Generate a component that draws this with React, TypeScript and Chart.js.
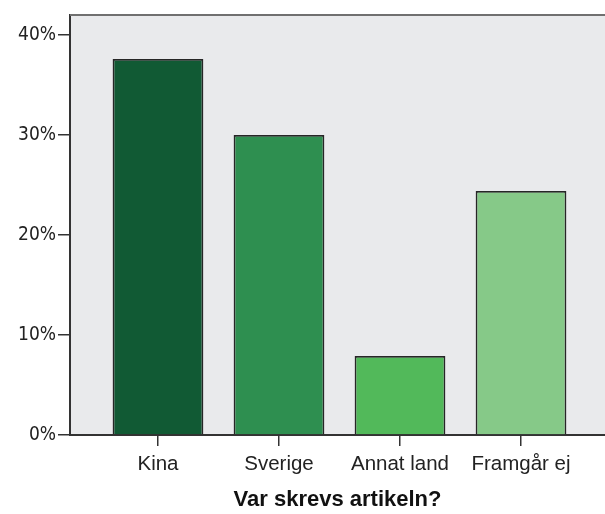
import React, { useEffect, useRef } from "react";
import { Chart, registerables } from "chart.js";

Chart.register(...registerables);

const categories = ["Kina", "Sverige", "Annat land", "Framgår ej"];
const percentages = [37.6, 30.0, 7.9, 24.4];
const barColors = ["#115a34", "#2e8f50", "#52b95a", "#86c988"];
const yTickValues = [0, 10, 20, 30, 40];
const xTitle = "Var skrevs artikeln?";

const FONT = "'Liberation Sans', Arial, sans-serif";
const NARROW = "'Liberation Sans Narrow', 'DejaVu Sans Condensed', 'Liberation Sans', sans-serif";

const plotBackground = {
  id: "plotBackground",
  beforeDraw(chart: any) {
    const { ctx, chartArea } = chart;
    ctx.save();
    ctx.fillStyle = "#e9eaec";
    ctx.fillRect(chartArea.left, chartArea.top, chartArea.right - chartArea.left, chartArea.bottom - chartArea.top);
    ctx.restore();
  },
  afterDraw(chart: any) {
    const { ctx, chartArea } = chart;
    ctx.save();
    ctx.strokeStyle = "#707070";
    ctx.lineWidth = 2;
    ctx.beginPath();
    ctx.moveTo(chartArea.left, chartArea.top);
    ctx.lineTo(chartArea.right, chartArea.top);
    ctx.stroke();
    ctx.restore();
  },
};

export default function App() {
  const ref = useRef<HTMLCanvasElement | null>(null);

  useEffect(() => {
    document.body.style.margin = "0";
    const canvas = ref.current;
    if (!canvas) return;
    const chart = new Chart(canvas, {
      type: "bar",
      data: {
        datasets: [
          {
            data: percentages.map((v, i) => ({ x: i, y: v })),
            backgroundColor: barColors,
            borderColor: "#262626",
            borderWidth: 1.8,
            categoryPercentage: 1,
            barPercentage: 0.75,
          },
        ],
      },
      options: {
        animation: false,
        responsive: false,
        maintainAspectRatio: false,
        layout: { padding: { top: 15, right: 0, bottom: 0, left: 0 } },
        plugins: { legend: { display: false }, tooltip: { enabled: false } },
        scales: {
          x: {
            type: "linear",
            offset: false,
            min: -0.727,
            max: 3.694,
            afterBuildTicks: (axis: any) => {
              axis.ticks = categories.map((_, i) => ({ value: i }));
            },
            afterFit: (axis: any) => {
              axis.height = 79;
            },
            ticks: {
              autoSkip: false,
              maxRotation: 0,
              padding: 6,
              color: "#222",
              font: { family: FONT, size: 20.5 },
              callback: (v: any) => categories[v] ?? "",
            },
            grid: {
              display: true,
              offset: false,
              drawOnChartArea: false,
              drawTicks: true,
              tickLength: 11,
              tickColor: "#333",
              lineWidth: 1.5,
            },
            border: { display: true, color: "#333", width: 2 },
            title: {
              display: true,
              text: xTitle,
              color: "#111",
              font: { family: FONT, size: 22, weight: "bold" },
              padding: { top: 4, bottom: 1 },
            },
          },
          y: {
            min: 0,
            max: 42,
            afterBuildTicks: (axis: any) => {
              axis.ticks = yTickValues.map((v) => ({ value: v }));
            },
            afterFit: (axis: any) => {
              axis.width = 70;
            },
            ticks: {
              padding: 2,
              color: "#222",
              font: { family: NARROW, size: 19 },
              callback: (v: any) => v + "%",
            },
            grid: {
              display: true,
              drawOnChartArea: false,
              drawTicks: true,
              tickLength: 12,
              tickColor: "#333",
              lineWidth: 1.5,
            },
            border: { display: true, color: "#333", width: 2 },
          },
        },
      },
      plugins: [plotBackground],
    });
    return () => chart.destroy();
  }, []);

  return (
    <div style={{ width: 605, height: 514, background: "#fff" }}>
      <canvas ref={ref} width={605} height={514} style={{ display: "block" }} />
    </div>
  );
}
